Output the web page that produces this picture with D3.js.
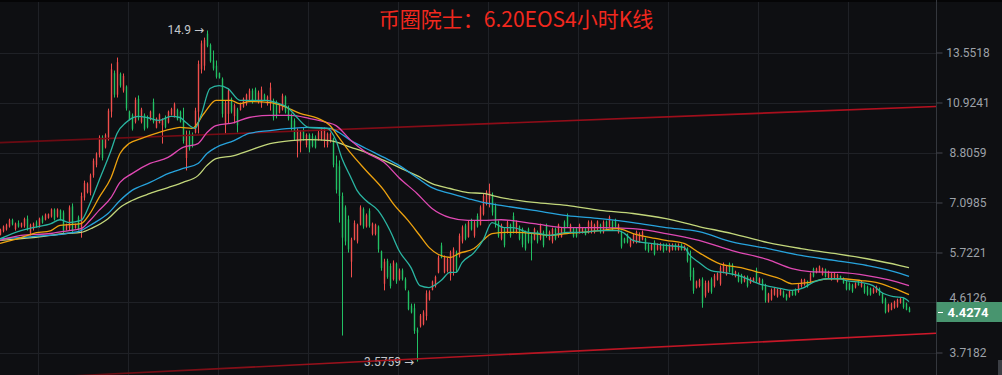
<!DOCTYPE html>
<html><head><meta charset="utf-8">
<script src="https://cdn.jsdelivr.net/npm/d3@7"></script>
<style>html,body{margin:0;padding:0;background:#0e0f12;overflow:hidden}</style>
</head><body><svg id="c" width="1002" height="375"></svg>
<script>
const openP=[
6.18,6.27,6.32,6.40,6.58,6.33,6.50,6.40,6.42,6.62,
6.20,6.34,6.52,6.40,6.66,6.59,6.64,6.68,6.88,6.68,
6.86,6.80,6.31,6.36,6.98,6.36,6.66,6.30,7.25,7.42,
7.40,7.98,8.35,8.72,9.40,9.00,9.40,10.50,12.40,11.30,
12.35,11.50,11.70,10.50,10.35,10.05,11.10,10.05,10.35,10.25,
10.15,10.95,9.80,10.00,9.90,10.25,10.02,10.36,10.30,10.58,
10.50,10.10,8.60,9.55,9.50,9.60,10.50,12.60,12.80,14.70,
14.00,13.10,12.80,12.40,12.10,9.90,10.40,11.10,10.30,10.60,
10.58,10.72,10.85,11.10,11.50,11.55,10.95,10.90,11.30,10.85,
10.90,11.00,10.90,10.45,10.60,11.20,10.70,10.35,10.10,9.20,
9.20,9.70,9.10,9.50,9.45,9.40,9.30,9.35,9.30,9.10,
9.25,9.35,8.40,8.30,7.30,6.95,6.60,5.50,6.05,6.00,
6.45,6.90,6.40,6.85,6.20,6.20,6.40,5.75,5.00,5.52,
5.40,5.10,5.45,5.10,5.30,5.10,4.83,4.55,4.50,4.10,
4.16,4.20,4.35,4.67,4.87,4.95,5.25,5.90,5.25,5.28,
5.20,5.30,5.72,5.65,6.00,6.43,6.12,6.58,6.15,6.70,
6.45,6.75,7.05,7.20,7.35,6.98,6.50,6.07,6.33,6.25,
6.45,6.70,6.25,6.40,6.33,6.25,6.33,6.15,6.05,6.25,
6.07,6.25,6.45,6.05,6.00,6.33,6.15,6.12,6.52,6.70,
6.24,6.34,6.34,6.24,6.23,6.34,6.24,6.24,6.24,6.31,
6.45,6.24,6.54,6.40,6.54,6.58,6.24,6.25,6.08,6.18,
5.88,5.98,5.98,6.00,6.05,6.07,5.92,5.79,5.98,5.79,
5.80,5.92,5.92,5.75,5.79,5.92,5.79,5.92,5.78,5.82,
5.60,5.30,4.92,4.95,5.10,4.75,4.84,5.10,4.95,5.09,
5.00,5.25,5.20,5.45,5.42,5.16,5.22,5.20,5.05,5.15,
5.02,5.05,5.30,5.02,5.08,4.97,4.63,4.67,4.77,4.73,
4.77,4.84,4.77,4.73,4.84,4.88,4.83,4.95,4.98,5.05,
5.05,5.33,5.25,5.27,5.20,5.32,5.13,5.09,5.13,5.05,
5.17,5.12,5.04,5.00,4.97,4.92,5.05,4.94,4.97,4.94,
4.90,4.81,4.83,4.90,4.79,4.68,4.44,4.47,4.51,4.53,
4.61,4.69,4.59,4.50];
const highP=[
6.34,6.43,6.48,6.62,6.62,6.51,6.57,6.51,6.65,6.71,
6.48,6.51,6.57,6.65,6.71,6.77,6.77,6.92,6.92,6.92,
6.89,6.86,6.48,7.01,7.07,6.48,6.71,7.41,7.80,7.74,
8.04,8.58,8.81,9.48,9.48,9.56,10.64,12.92,12.54,13.26,
12.43,12.38,11.76,10.55,10.42,11.16,11.26,10.68,10.42,10.33,
10.55,11.11,10.24,10.42,10.20,10.33,10.55,10.68,10.92,10.64,
10.55,10.68,9.68,9.68,9.60,10.68,13.09,14.27,14.45,14.90,
14.09,13.67,13.09,12.43,12.17,11.02,11.60,11.16,10.87,10.68,
10.92,11.16,11.35,11.60,11.60,11.65,11.50,11.70,11.35,11.26,
11.90,11.11,11.02,10.87,11.35,11.26,10.78,10.42,10.20,9.77,
9.68,9.81,9.56,9.56,9.56,9.48,9.68,9.81,9.81,9.60,
9.60,9.39,8.69,8.51,7.41,7.01,6.71,6.10,6.57,6.48,
7.01,6.95,6.77,6.92,6.51,6.48,6.43,5.77,5.57,5.57,
5.46,5.53,5.48,5.34,5.34,5.14,4.86,4.59,4.59,4.14,
4.39,4.46,4.86,4.86,5.07,5.18,5.65,5.97,5.65,5.60,
5.77,5.85,5.77,6.21,6.43,6.48,6.57,6.62,6.57,6.77,
7.01,7.38,7.48,7.70,7.41,7.07,6.57,6.48,6.37,6.57,
6.48,6.80,6.57,6.43,6.37,6.29,6.37,6.21,6.37,6.29,
6.48,6.29,6.48,6.29,6.37,6.37,6.48,6.37,6.57,6.77,
6.48,6.37,6.37,6.48,6.37,6.37,6.57,6.57,6.48,6.57,
6.48,6.57,6.57,6.71,6.57,6.62,6.48,6.29,6.10,6.21,
6.10,6.21,6.29,6.24,6.29,6.10,5.95,5.95,6.03,5.95,
5.97,5.95,5.95,5.95,5.95,5.95,5.95,5.95,5.90,5.85,
5.77,5.36,5.07,5.11,5.14,5.07,5.07,5.14,5.22,5.25,
5.41,5.48,5.41,5.48,5.46,5.29,5.25,5.22,5.18,5.18,
5.14,5.14,5.36,5.14,5.11,5.00,4.81,4.90,4.92,4.90,
4.90,4.86,4.79,4.86,4.86,4.90,5.00,5.11,5.11,5.07,
5.25,5.36,5.36,5.41,5.36,5.34,5.29,5.25,5.25,5.22,
5.18,5.14,5.07,5.03,5.00,5.03,5.07,5.07,5.00,4.96,
4.92,4.92,4.96,4.92,4.81,4.71,4.59,4.61,4.65,4.69,
4.71,4.71,4.61,4.53];
const lowP=[
6.16,6.24,6.29,6.37,6.43,6.29,6.37,6.37,6.37,6.29,
6.16,6.29,6.37,6.37,6.48,6.57,6.62,6.65,6.57,6.65,
6.57,6.21,6.29,6.29,6.21,6.34,6.29,6.10,7.16,7.38,
7.32,7.90,8.26,8.62,8.51,8.96,9.27,10.24,11.16,11.16,
11.65,11.40,10.55,10.11,9.68,9.98,10.11,9.98,9.68,9.77,
10.11,9.98,9.77,9.98,9.15,9.77,9.98,10.33,10.24,10.11,
10.02,9.15,8.15,8.88,9.00,9.56,9.56,12.38,12.54,13.86,
12.97,12.54,12.11,12.11,10.24,9.56,9.98,10.42,9.98,9.60,
10.55,10.68,10.78,11.02,10.87,11.02,10.87,10.68,11.02,10.78,
10.55,10.11,10.20,10.42,10.55,10.42,10.11,9.68,9.27,8.62,
8.81,9.27,9.00,8.81,9.00,8.96,9.27,9.27,9.00,9.00,
9.19,8.26,7.38,6.51,4.00,5.90,5.72,5.14,6.03,5.95,
6.43,6.34,6.37,6.37,6.16,6.16,5.72,5.29,4.86,5.11,
4.90,5.07,5.00,5.07,5.07,4.86,4.46,4.40,4.03,3.576,
4.14,4.18,4.27,4.65,4.86,4.92,5.23,5.58,5.23,5.25,
5.07,5.18,5.25,5.60,5.95,6.03,6.10,6.29,6.10,6.37,
6.43,6.71,7.01,6.95,6.71,6.37,6.10,6.03,5.85,6.21,
6.10,6.21,6.21,6.03,5.85,5.77,5.95,5.53,6.03,5.95,
6.03,5.85,6.10,6.03,5.95,6.03,6.10,6.10,6.21,6.37,
6.21,6.10,6.10,6.21,6.21,6.16,6.21,6.21,6.21,6.29,
6.21,6.21,6.29,6.37,6.29,6.37,6.21,5.82,5.95,5.95,
5.85,5.95,5.95,5.97,6.03,5.77,5.72,5.77,5.65,5.77,
5.77,5.72,5.77,5.72,5.77,5.77,5.77,5.77,5.77,5.48,
5.07,4.79,4.90,4.92,4.51,4.71,4.81,4.79,4.92,5.07,
4.96,5.23,5.18,5.25,5.18,5.14,5.03,5.00,5.03,4.92,
5.00,5.03,5.03,5.00,4.86,4.61,4.61,4.65,4.75,4.71,
4.75,4.71,4.65,4.71,4.75,4.75,4.81,4.92,4.96,4.92,
5.03,5.14,5.23,5.25,5.18,5.14,5.11,5.07,5.11,5.03,
5.11,5.00,4.86,4.86,4.81,4.90,4.96,4.92,4.79,4.75,
4.75,4.79,4.81,4.75,4.59,4.40,4.42,4.46,4.49,4.51,
4.59,4.49,4.46,4.42];
const closeP=[
6.31,6.40,6.45,6.58,6.46,6.48,6.40,6.49,6.61,6.33,
6.45,6.48,6.40,6.62,6.51,6.74,6.75,6.89,6.60,6.89,
6.60,6.26,6.46,6.95,6.27,6.46,6.33,7.30,7.72,7.70,
7.98,8.50,8.75,9.40,8.60,9.50,10.55,12.60,11.30,13.00,
11.75,12.25,10.65,10.15,9.75,11.05,10.20,10.60,9.75,9.82,
10.50,10.05,10.20,10.38,10.15,9.82,10.50,10.62,10.85,10.15,
10.06,9.25,9.50,8.95,9.05,10.55,12.90,14.10,14.30,13.95,
13.05,12.65,12.20,12.15,10.40,10.90,11.50,10.50,10.80,9.90,
10.88,11.10,11.30,11.50,10.95,11.08,11.40,11.55,11.05,11.20,
11.65,10.25,10.30,10.80,11.25,10.50,10.20,9.75,9.35,9.70,
9.60,9.35,9.50,8.95,9.05,9.00,9.60,9.75,9.70,9.55,
9.55,8.35,7.50,7.30,6.10,6.00,5.80,6.05,6.50,6.45,
6.95,6.40,6.72,6.42,6.48,6.45,5.80,5.35,5.50,5.15,
4.95,5.48,5.05,5.30,5.10,4.90,4.48,4.42,4.08,4.05,
4.36,4.42,4.80,4.83,5.05,5.15,5.60,5.60,5.60,5.57,
5.72,5.80,5.30,6.15,6.38,6.07,6.52,6.32,6.52,6.40,
6.95,7.30,7.42,7.45,6.80,6.45,6.15,6.42,5.90,6.52,
6.15,6.25,6.52,6.07,5.92,5.82,6.00,5.95,6.33,6.00,
6.43,5.90,6.15,6.25,6.33,6.07,6.45,6.34,6.25,6.40,
6.45,6.13,6.13,6.45,6.35,6.18,6.52,6.52,6.45,6.54,
6.24,6.52,6.31,6.67,6.31,6.40,6.45,5.87,5.97,5.98,
6.07,6.18,6.25,6.21,6.25,5.80,5.75,5.92,5.68,5.92,
5.94,5.75,5.79,5.92,5.92,5.79,5.92,5.79,5.88,5.52,
5.15,4.85,5.05,5.08,4.60,5.02,5.03,4.83,5.18,5.23,
5.36,5.45,5.38,5.27,5.20,5.27,5.05,5.03,5.16,4.95,
5.12,5.12,5.06,5.12,4.88,4.65,4.79,4.87,4.90,4.88,
4.88,4.73,4.67,4.84,4.76,4.77,4.98,5.08,5.09,4.94,
5.22,5.16,5.34,5.39,5.34,5.16,5.27,5.23,5.23,5.20,
5.12,5.02,4.88,4.88,4.84,5.01,4.97,5.05,4.82,4.77,
4.77,4.90,4.94,4.77,4.61,4.42,4.57,4.59,4.63,4.67,
4.69,4.52,4.47,4.4274];

const tickVals=[13.5518,10.9241,8.8059,7.0985,5.7221,4.6126,3.7182];

const maTeal=[[0,6.07],[7,6.29],[11,6.37],[17,6.48],[20,6.59],[23,6.51],[27,6.57],[30,7.07],[33,7.80],[37,8.88],[39,9.56],[42,10.02],[46,10.29],[49,10.24],[53,10.11],[57,10.29],[60,10.24],[62,10.02],[65,9.77],[67,10.33],[70,11.60],[73,11.75],[76,11.60],[80,11.02],[83,11.02],[89,11.02],[92,10.92],[96,10.68],[99,10.24],[103,9.80],[109,9.77],[112,9.27],[114,8.58],[117,7.90],[119,7.48],[122,7.16],[126,6.86],[130,6.29],[133,5.77],[137,5.36],[140,4.96],[143,4.92],[147,5.07],[150,5.25],[152,5.25],[154,5.48],[158,5.72],[161,6.03],[164,6.51],[168,6.37],[171,6.37],[176,6.24],[179,6.22],[183,6.16],[189,6.24],[194,6.24],[200,6.29],[206,6.29],[208,6.22],[211,6.03],[217,5.95],[222,5.90],[228,5.85],[230,5.65],[233,5.48],[237,5.29],[241,5.25],[247,5.16],[253,5.00],[260,4.90],[264,4.86],[268,4.92],[271,5.03],[276,5.11],[280,5.11],[282,5.07],[287,5.03],[291,4.96],[294,4.81],[298,4.73],[301,4.71],[303,4.63]];
const maOrange=[[0,5.95],[7,6.10],[11,6.21],[17,6.29],[20,6.43],[23,6.45],[27,6.48],[30,6.77],[33,7.25],[37,7.90],[40,8.77],[43,9.15],[47,9.35],[52,9.56],[58,9.77],[60,9.81],[64,9.77],[68,10.42],[72,11.02],[77,11.02],[80,10.87],[83,10.97],[90,10.92],[94,10.78],[100,10.42],[106,10.20],[110,9.89],[113,9.39],[117,8.77],[122,8.15],[128,7.48],[131,7.07],[136,6.57],[140,6.15],[143,5.85],[146,5.68],[150,5.60],[153,5.70],[158,5.82],[161,6.03],[164,6.21],[169,6.24],[172,6.24],[178,6.21],[183,6.16],[189,6.21],[194,6.24],[200,6.29],[206,6.34],[211,6.21],[217,6.10],[222,6.03],[228,5.95],[233,5.72],[240,5.45],[247,5.36],[253,5.25],[260,5.11],[264,5.00],[270,5.03],[276,5.11],[280,5.11],[287,5.07],[292,5.03],[298,4.90],[303,4.77]];
const maMagenta=[[0,6.03],[7,6.16],[17,6.21],[23,6.29],[27,6.34],[30,6.57],[33,6.86],[37,7.25],[40,7.74],[44,8.04],[50,8.40],[56,8.62],[61,9.00],[66,9.15],[69,9.60],[72,9.89],[78,10.02],[83,10.24],[90,10.33],[97,10.33],[103,10.20],[109,10.02],[112,9.89],[117,9.27],[122,8.81],[128,8.44],[133,7.90],[139,7.38],[144,6.92],[150,6.65],[156,6.57],[161,6.57],[167,6.59],[178,6.48],[189,6.37],[200,6.37],[211,6.34],[222,6.21],[233,6.03],[244,5.77],[256,5.55],[264,5.34],[270,5.27],[280,5.25],[289,5.18],[296,5.09],[303,4.96]];
const maBlue=[[0,6.07],[11,6.13],[22,6.21],[27,6.29],[31,6.48],[36,6.77],[40,7.16],[44,7.48],[50,7.74],[56,8.04],[61,8.22],[66,8.40],[69,8.77],[72,9.00],[78,9.27],[83,9.56],[90,9.68],[97,9.77],[103,9.81],[110,9.77],[113,9.60],[117,9.27],[122,8.96],[128,8.62],[133,8.33],[139,7.90],[144,7.57],[150,7.38],[156,7.22],[161,7.10],[167,7.01],[178,6.86],[189,6.71],[200,6.62],[211,6.51],[222,6.37],[233,6.26],[244,5.99],[256,5.82],[267,5.65],[278,5.53],[289,5.41],[300,5.23],[303,5.16]];
const maYellow=[[0,6.03],[11,6.10],[22,6.21],[27,6.24],[31,6.37],[36,6.62],[40,6.95],[44,7.16],[50,7.38],[56,7.57],[61,7.74],[66,7.97],[69,8.33],[72,8.58],[78,8.69],[83,8.88],[90,9.15],[97,9.27],[103,9.31],[110,9.27],[117,9.00],[122,8.81],[128,8.51],[133,8.26],[139,7.97],[144,7.70],[150,7.54],[156,7.41],[161,7.38],[167,7.25],[178,7.10],[189,7.01],[200,6.86],[211,6.77],[222,6.62],[233,6.40],[244,6.21],[256,5.97],[267,5.82],[278,5.70],[289,5.57],[300,5.41],[303,5.36]];

const upperTrend=[[0,9.19],[312,10.74]];
const lowerTrend=[[0,3.31],[312,4.04]];
const lastPrice=4.4274;
const highMark=[69,14.9,"14.9"];
const lowMark=[139,3.5759,"3.5759"];
const titleText="币圈院士：6.20EOS4小时K线";

const W=1002,H=375,plotR=936;
const svg=d3.select('#c');
svg.append('rect').attr('width',W).attr('height',H).attr('fill','#0e0f12');
const x=d3.scaleLinear().domain([0,303]).range([0,909]);
const y=d3.scaleLog().domain([3.7182,13.5518]).range([352.5,52.5]);

const defs=svg.append('defs');
defs.append('clipPath').attr('id','plot').append('rect').attr('x',0).attr('y',0).attr('width',plotR).attr('height',H);
function grad(id,stops){const gr=defs.append('linearGradient').attr('id',id).attr('gradientUnits','userSpaceOnUse').attr('x1',0).attr('x2',plotR).attr('y1',0).attr('y2',0);
 stops.forEach(s=>gr.append('stop').attr('offset',s[0]).attr('stop-color',s[1]));}
grad('gu',[[0,'#6a0a12'],[0.5,'#8a0c17'],[1,'#b8101f']]);
grad('gl',[[0,'#3a070b'],[0.12,'#6a0c13'],[0.45,'#b0131f'],[1,'#d0182a']]);

// grid
const grid=svg.append('g');
grid.selectAll('line.h').data(tickVals).join('line').attr('class','h')
 .attr('x1',0).attr('x2',plotR).attr('y1',d=>Math.round(y(d))+0.5).attr('y2',d=>Math.round(y(d))+0.5)
 .attr('stroke','#1f2126').attr('stroke-width',1);
grid.selectAll('line.v').data(d3.range(38,plotR,90)).join('line').attr('class','v')
 .attr('x1',d=>d+0.5).attr('x2',d=>d+0.5).attr('y1',0).attr('y2',H)
 .attr('stroke','#1f2126').attr('stroke-width',1);
svg.append('rect').attr('x',0).attr('y',0).attr('width',W).attr('height',2).attr('fill','#050506');

// annotations (under the trend line, like the reference)
const aFont='12px Roboto, Arial, sans-serif';
function mark(m){
 const t=svg.append('text').attr('x',x(m[0])-3).attr('y',y(m[1])+4).attr('text-anchor','end')
  .attr('fill','#c4c7cc').style('font',aFont);
 t.append('tspan').text(m[2]+' ');
 t.append('tspan').style('font','12px "DejaVu Sans", sans-serif').text('→');
}
mark(highMark); mark(lowMark);

const plot=svg.append('g').attr('clip-path','url(#plot)');

// candles
const idx=d3.range(closeP.length);
const upC='#f04e4c',dnC='#22c063';
const cg=plot.append('g');
cg.selectAll('line').data(idx).join('line')
 .attr('x1',i=>Math.round(x(i))+0.5).attr('x2',i=>Math.round(x(i))+0.5)
 .attr('y1',i=>y(highP[i])).attr('y2',i=>y(lowP[i]))
 .attr('stroke',i=>closeP[i]>=openP[i]?upC:dnC).attr('stroke-width',1);
cg.selectAll('rect').data(idx).join('rect')
 .attr('x',i=>Math.round(x(i))-0.2).attr('width',1.4)
 .attr('y',i=>y(Math.max(openP[i],closeP[i])))
 .attr('height',i=>Math.max(1,y(Math.min(openP[i],closeP[i]))-y(Math.max(openP[i],closeP[i]))))
 .attr('fill',i=>closeP[i]>=openP[i]?upC:dnC);

// trend lines
const tl=d3.line().x(d=>x(d[0])).y(d=>y(d[1]));
plot.append('path').attr('d',tl(upperTrend)).attr('stroke','url(#gu)').attr('stroke-width',1.6).attr('fill','none');
plot.append('path').attr('d',tl(lowerTrend)).attr('stroke','url(#gl)').attr('stroke-width',1.6).attr('fill','none');

// moving averages
const ml=d3.line().x(d=>x(d[0])).y(d=>y(d[1])).curve(d3.curveMonotoneX);
[[maYellow,'#c3d77b'],[maBlue,'#27a3dc'],[maMagenta,'#e049b3'],[maOrange,'#eda20f'],[maTeal,'#2ab5a2']].forEach(([d,c])=>{
 plot.append('path').attr('d',ml(d)).attr('stroke',c).attr('stroke-width',1.3).attr('fill','none');
});

// right axis
svg.append('line').attr('x1',plotR+0.5).attr('x2',plotR+0.5).attr('y1',0).attr('y2',H).attr('stroke','#34373d');
const axis=d3.axisRight(y).tickValues(tickVals).tickFormat(d=>d.toFixed(4)).tickSize(6).tickSizeOuter(0);
const ag=svg.append('g').attr('transform',`translate(${plotR+0.5},0)`).call(axis);
ag.select('.domain').remove();
ag.selectAll('.tick line').attr('stroke','#44474e');
ag.selectAll('.tick text').attr('x',31.5).attr('text-anchor','middle').attr('fill','#9da1a8')
 .style('font','12px Roboto, Arial, sans-serif')
 .attr('dy',d=>Math.abs(Math.log(d/lastPrice))<0.06?'-0.05em':'0.32em');

// last price label
const ly=y(lastPrice);
svg.append('rect').attr('x',plotR+0.5).attr('y',ly-10).attr('width',W-plotR).attr('height',20).attr('fill','#4c9f76').attr('opacity',0.93);
svg.append('line').attr('x1',plotR+2).attr('x2',plotR+7).attr('y1',Math.round(ly)+0.5).attr('y2',Math.round(ly)+0.5).attr('stroke','#ffffff');
svg.append('text').attr('x',968).attr('y',ly+4.5).attr('text-anchor','middle').attr('fill','#ffffff')
 .style('font','bold 13px Roboto, Arial, sans-serif').text(lastPrice.toFixed(4));

// scrollbar stub
svg.append('rect').attr('x',998).attr('y',360).attr('width',4).attr('height',15).attr('fill','#3b3e44');

// title
svg.append('text').attr('x',516).attr('y',26.5).attr('text-anchor','middle').attr('fill','#f2281e')
 .style('font','21px "Noto Sans CJK SC", sans-serif').text(titleText);
</script></body></html>
